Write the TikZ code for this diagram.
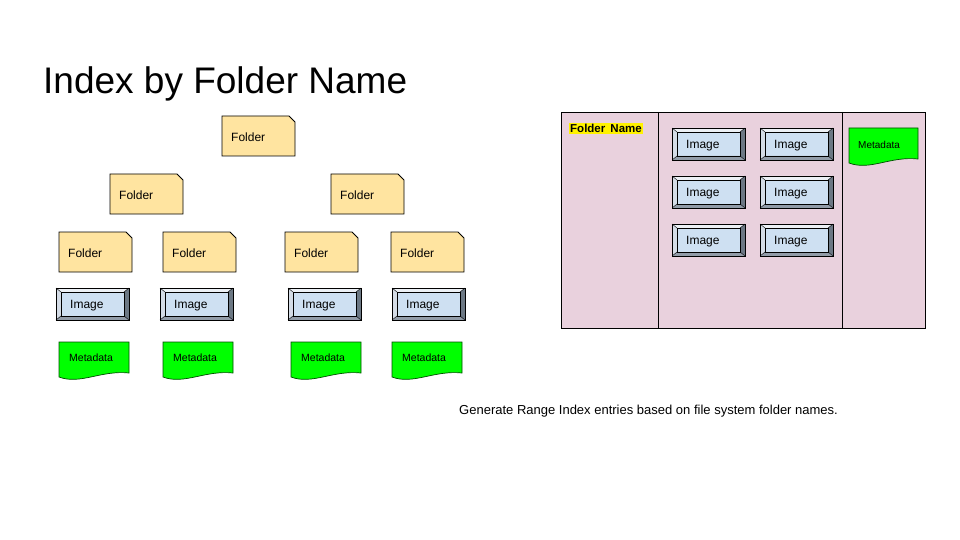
\documentclass[tikz,border=0pt]{standalone}
\usepackage{fontspec}
\setmainfont{Liberation Sans}
\usetikzlibrary{calc}

\definecolor{folderfill}{RGB}{255,228,160}
\definecolor{imagefill}{RGB}{206,224,242}
\definecolor{beveltop}{RGB}{236,240,245}
\definecolor{bevelleft}{RGB}{212,220,230}
\definecolor{bevelright}{RGB}{108,120,132}
\definecolor{bevelbottom}{RGB}{146,156,168}
\definecolor{metafill}{RGB}{0,255,0}
\definecolor{panelfill}{RGB}{233,209,221}

% folder card: name, left, top
\newcommand{\folderbox}[3]{%
  \draw[folder] (#2,#3) -- ++(67,0) -- ++(6,6) -- ++(0,34) -- ++(-73,0) -- cycle;
  \node[boxtext] (#1) at (#2+9,#3+21.5) {Folder};
}
% bevelled image button: name, left, top
\newcommand{\imagebox}[3]{%
  \fill[imagefill] (#2,#3) rectangle ++(73,32);
  \fill[beveltop] (#2,#3) -- ++(73,0) -- ++(-5,4) -- ++(-63,0) -- cycle;
  \fill[bevelleft] (#2,#3) -- ++(5,4) -- ++(0,24) -- ++(-5,4) -- cycle;
  \fill[bevelright] (#2+73,#3) -- ++(0,32) -- ++(-5,-4) -- ++(0,-24) -- cycle;
  \fill[bevelbottom] (#2,#3+32) -- ++(73,0) -- ++(-5,-4) -- ++(-63,0) -- cycle;
  \draw[thin] (#2,#3) -- ++(5,4) (#2+73,#3) -- ++(-5,4)
              (#2,#3+32) -- ++(5,-4) (#2+73,#3+32) -- ++(-5,-4);
  \draw[line width=0.9pt] (#2,#3) rectangle ++(73,32);
  \draw[line width=0.7pt] (#2+5,#3+4) rectangle ++(63,24);
  \node[boxtext] (#1) at (#2+14,#3+17.5) {Image};
}
% document shape: name, left, top
\newcommand{\metabox}[3]{%
  \draw[meta] (#2,#3) -- ++(70,0) -- ++(0,31)
     .. controls (#2+42,#3+28) and (#2+21,#3+43) .. (#2,#3+35) -- cycle;
  \node[metatext] (#1) at (#2+10,#3+16) {Metadata};
}

\begin{document}
\begin{tikzpicture}[x=1pt,y=-1pt,
    folder/.style={fill=folderfill,draw=black,line width=0.9pt},
    meta/.style={fill=metafill,draw=black!70!green,line width=0.7pt},
    boxtext/.style={anchor=west,inner sep=0pt,font=\fontsize{12}{14}\selectfont},
    metatext/.style={anchor=west,inner sep=0pt,font=\fontsize{10.5}{12}\selectfont}]
    \useasboundingbox (0,0) rectangle (960,540);

    % title
    \node[anchor=base west,inner sep=0pt,font=\fontsize{37}{42}\selectfont] (title) at (43,94) {Index by Folder Name};

    % folder tree
    \folderbox{fldroot}{222}{116}
    \folderbox{fldleft}{110}{174}
    \folderbox{fldright}{331}{174}
    \folderbox{fldA}{59}{232}
    \folderbox{fldB}{163}{232}
    \folderbox{fldC}{285}{232}
    \folderbox{fldD}{391}{232}

    \imagebox{imgA}{56}{288}
    \imagebox{imgB}{160}{288}
    \imagebox{imgC}{288}{288}
    \imagebox{imgD}{392}{288}

    \metabox{metaA}{59}{342}
    \metabox{metaB}{163}{342}
    \metabox{metaC}{291}{342}
    \metabox{metaD}{392}{342}

    % index panel
    \draw[fill=panelfill,line width=0.9pt] (561,112) rectangle (925,328);
    \draw[line width=0.9pt] (658,112) -- (658,328);
    \draw[line width=0.9pt] (842,112) -- (842,328);
    \node[anchor=north west,fill=yellow,inner sep=1pt,font=\bfseries\fontsize{11.5}{13}\selectfont] (fldname) at (569,123) {Folder\ \,Name};

    \imagebox{pimgA}{672}{128}
    \imagebox{pimgB}{760}{128}
    \imagebox{pimgC}{672}{176}
    \imagebox{pimgD}{760}{176}
    \imagebox{pimgE}{672}{224}
    \imagebox{pimgF}{760}{224}

    \draw[meta] (849,128) -- (918,128) -- (918,159)
       .. controls (890,156) and (870,171) .. (849,163) -- cycle;
    \node[metatext,font=\fontsize{10}{12}\selectfont] (pmeta) at (858,145) {Metadata};

    % caption
    \node[anchor=west,inner sep=0pt,font=\fontsize{13}{15}\selectfont] (caption) at (459,411) {Generate Range Index entries based on file system folder names.};
\end{tikzpicture}
\end{document}
